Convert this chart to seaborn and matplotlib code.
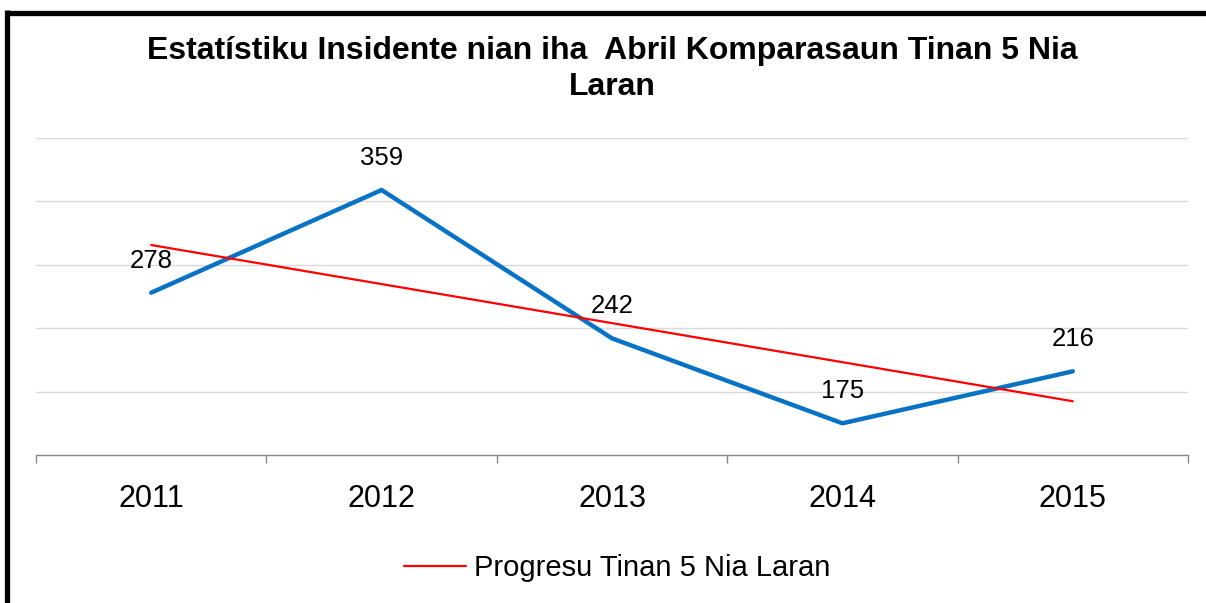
import matplotlib
matplotlib.use("Agg")
import matplotlib.pyplot as plt
from matplotlib.lines import Line2D
import numpy as np
import pandas as pd
import seaborn as sns

# Data
years = ["2011", "2012", "2013", "2014", "2015"]
incidents = [278, 359, 242, 175, 216]
title = "Estatístiku Insidente nian iha  Abril Komparasaun Tinan 5 Nia\nLaran"
trend_label = "Progresu Tinan 5 Nia Laran"

df = pd.DataFrame({"pos": np.arange(len(years)), "year": years, "value": incidents})

sns.set_style("white")
plt.rcParams["font.family"] = ["Liberation Sans", "DejaVu Sans"]
plt.rcParams["text.color"] = "black"
plt.rcParams["xtick.color"] = "black"

fig = plt.figure(figsize=(12.06, 6.03), dpi=100)
ax = fig.add_axes([36 / 1206, 1 - 455 / 603, (1188 - 36) / 1206, (455 - 138) / 603])

# main series
sns.lineplot(data=df, x="pos", y="value", ax=ax, color="#0A72C2", linewidth=3.2,
             legend=False)
# linear trend line
sns.regplot(data=df, x="pos", y="value", ax=ax, scatter=False, ci=None,
            color="#FF0000", line_kws={"linewidth": 1.6})

for x, v in zip(df["pos"], df["value"]):
    ax.annotate(str(v), (x, v), xytext=(0, 23), textcoords="offset points",
                ha="center", va="center", fontsize=18.5, color="black")

ax.set_xlim(-0.5, len(years) - 0.5)
ax.set_ylim(150, 400)
ax.set_yticks([200, 250, 300, 350, 400])
ax.yaxis.grid(True, color="#D9D9D9", linewidth=1.0)
ax.tick_params(axis="y", left=False, labelleft=False)

ax.set_xticks(df["pos"])
ax.set_xticklabels(years, fontsize=22, color="black")
ax.set_xticks(np.arange(-0.5, len(years)), minor=True)
ax.tick_params(axis="x", which="major", length=0, pad=21)
ax.tick_params(axis="x", which="minor", bottom=True, direction="out", length=6,
               color="#868686", width=1.0)
ax.set_xlabel("")
ax.set_ylabel("")

for s in ["left", "right", "top"]:
    ax.spines[s].set_visible(False)
ax.spines["bottom"].set_color("#868686")
ax.spines["bottom"].set_linewidth(1.0)

fig.text(0.508, 1 - 69 / 603, title, ha="center", va="center", fontsize=23,
         fontweight="bold", linespacing=1.3, color="black")

handle = Line2D([], [], color="#FF0000", linewidth=1.6)
fig.legend([handle], [trend_label], loc="center", bbox_to_anchor=(0.512, 1 - 568 / 603),
           frameon=False, fontsize=21, handlelength=2.1, handletextpad=0.3,
           labelcolor="black")

# black frame (top and left edges)
fig.add_artist(Line2D([6.5 / 1206, 1], [1 - 12.5 / 603, 1 - 12.5 / 603],
                      color="black", linewidth=3.8, solid_capstyle="butt"))
fig.add_artist(Line2D([6.5 / 1206, 6.5 / 1206], [0, 1 - 10 / 603],
                      color="black", linewidth=3.8, solid_capstyle="butt"))

fig.savefig("out.png", dpi=100, facecolor="white")
